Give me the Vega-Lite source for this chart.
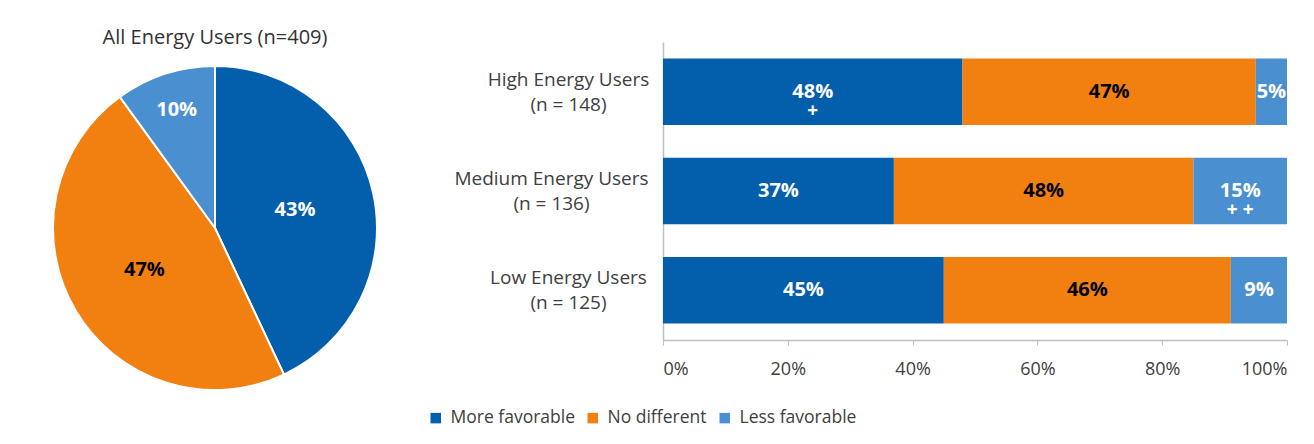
{
  "$schema": "https://vega.github.io/schema/vega-lite/v6.json",
  "background": "white",
  "padding": {"left": 49, "top": 28, "right": 5, "bottom": 5},
  "config": {
    "font": "Open Sans",
    "view": {"stroke": null},
    "concat": {"spacing": 46}
  },
  "resolve": {"scale": {"color": "independent"}, "legend": {"color": "independent"}},
  "datasets": {
    "all": [
      {"cat": "More favorable", "v": 0.43, "k": 1},
      {"cat": "No different", "v": 0.47, "k": 2},
      {"cat": "Less favorable", "v": 0.10, "k": 3}
    ],
    "groups": [
      {"grp": "High Energy Users|(n = 148)", "cat": "More favorable", "v": 0.48, "k": 1, "sig": "+"},
      {"grp": "High Energy Users|(n = 148)", "cat": "No different", "v": 0.47, "k": 2, "sig": ""},
      {"grp": "High Energy Users|(n = 148)", "cat": "Less favorable", "v": 0.05, "k": 3, "sig": ""},
      {"grp": "Medium Energy Users|(n = 136)", "cat": "More favorable", "v": 0.37, "k": 1, "sig": ""},
      {"grp": "Medium Energy Users|(n = 136)", "cat": "No different", "v": 0.48, "k": 2, "sig": ""},
      {"grp": "Medium Energy Users|(n = 136)", "cat": "Less favorable", "v": 0.15, "k": 3, "sig": "+ +"},
      {"grp": "Low Energy Users|(n = 125)", "cat": "More favorable", "v": 0.45, "k": 1, "sig": ""},
      {"grp": "Low Energy Users|(n = 125)", "cat": "No different", "v": 0.46, "k": 2, "sig": ""},
      {"grp": "Low Energy Users|(n = 125)", "cat": "Less favorable", "v": 0.09, "k": 3, "sig": ""}
    ]
  },
  "hconcat": [
    {
      "width": 324,
      "height": 372,
      "title": {"text": "All Energy Users (n=409)", "fontSize": 20, "fontWeight": "normal", "color": "#333333", "offset": -6, "anchor": "middle"},
      "data": {"name": "all"},
      "encoding": {
        "theta": {"field": "v", "type": "quantitative", "stack": true},
        "order": {"field": "k", "type": "quantitative"}
      },
      "layer": [
        {
          "mark": {"type": "arc", "stroke": "white", "strokeWidth": 2},
          "encoding": {
            "color": {"field": "cat", "type": "nominal", "legend": null,
              "scale": {"domain": ["More favorable", "No different", "Less favorable"], "range": ["#035EAB", "#F28011", "#4A90D0"]}}
          }
        },
        {
          "mark": {"type": "text", "radius": 82, "fontWeight": "bold", "fontSize": 20},
          "encoding": {
            "text": {"condition": {"test": "datum.cat !== 'Less favorable'", "field": "v", "type": "quantitative", "format": ".0%"}, "value": ""},
            "color": {"condition": {"test": "datum.cat === 'No different'", "value": "#000000"}, "value": "#FFFFFF"}
          }
        },
        {
          "mark": {"type": "text", "radius": 124, "fontWeight": "bold", "fontSize": 20, "color": "#FFFFFF"},
          "encoding": {
            "text": {"condition": {"test": "datum.cat === 'Less favorable'", "field": "v", "type": "quantitative", "format": ".0%"}, "value": ""}
          }
        }
      ]
    },
    {
      "width": 624,
      "height": 298,
      "data": {"name": "groups"},
      "encoding": {
        "y": {"field": "grp", "type": "nominal", "sort": null, "title": null,
          "scale": {"paddingInner": 0.33, "paddingOuter": 0.165},
          "axis": {"labelExpr": "split(datum.label, '|')", "labelFontSize": 19, "labelColor": "#404040", "labelAlign": "center", "labelLimit": 300, "labelOffset": -12,
            "labelPadding": {"condition": {"test": "indexof(datum.value, 'Medium') === 0", "value": 112}, "value": 95},
            "ticks": false, "domainColor": "#BFBFBF", "domainWidth": 1.5, "labelLineHeight": 25}},
        "x": {"field": "v", "type": "quantitative", "stack": "zero", "title": null,
          "scale": {"domain": [0, 1]},
          "axis": {"values": [0, 0.2, 0.4, 0.6, 0.8, 1], "format": ".0%", "grid": false, "labelFontSize": 18, "labelColor": "#404040", "tickColor": "#BFBFBF", "domainColor": "#BFBFBF", "domainWidth": 1.5, "tickSize": 5, "labelPadding": 15}},
        "order": {"field": "k", "type": "quantitative"}
      },
      "layer": [
        {
          "mark": {"type": "bar"},
          "encoding": {
            "color": {"field": "cat", "type": "nominal", "title": null,
              "scale": {"domain": ["More favorable", "No different", "Less favorable"], "range": ["#035EAB", "#F28011", "#4A90D0"]},
              "legend": {"orient": "none", "direction": "horizontal", "legendX": -236, "legendY": 367, "symbolType": "square", "symbolSize": 110, "symbolStrokeWidth": 0, "labelFontSize": 17.5, "labelColor": "#404040", "columnPadding": 9, "labelOffset": 6}}
          }
        },
        {
          "mark": {"type": "text", "fontWeight": "bold", "fontSize": 20},
          "encoding": {
            "x": {"field": "v", "type": "quantitative", "stack": "zero", "bandPosition": 0.5},
            "text": {"field": "v", "type": "quantitative", "format": ".0%"},
            "color": {"condition": {"test": "datum.cat === 'No different'", "value": "#000000"}, "value": "#FFFFFF"}
          }
        },
        {
          "mark": {"type": "text", "fontWeight": "bold", "fontSize": 19, "dy": 19},
          "encoding": {
            "x": {"field": "v", "type": "quantitative", "stack": "zero", "bandPosition": 0.5},
            "text": {"field": "sig", "type": "nominal"},
            "color": {"value": "#FFFFFF"}
          }
        }
      ]
    }
  ]
}
